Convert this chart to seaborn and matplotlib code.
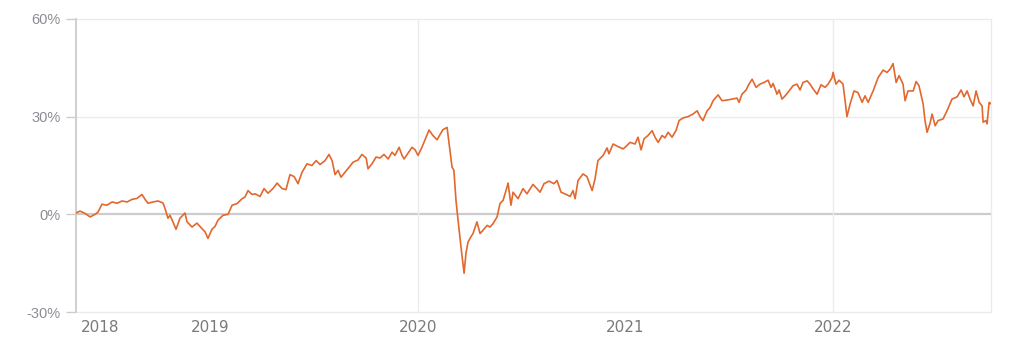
import numpy as np
import pandas as pd
import matplotlib
matplotlib.use("Agg")
import matplotlib.pyplot as plt
import seaborn as sns

# Time in decimal years, cumulative return in %
years = [
    2018.352, 2018.371, 2018.395, 2018.420, 2018.444, 2018.458, 2018.477, 2018.501, 2018.526, 2018.550,
    2018.574, 2018.598, 2018.622, 2018.646, 2018.670, 2018.685, 2018.699, 2018.723, 2018.747, 2018.771,
    2018.781, 2018.795, 2018.805, 2018.819, 2018.834, 2018.853, 2018.877, 2018.887, 2018.911, 2018.935,
    2018.959, 2018.974, 2018.988, 2019.007, 2019.022, 2019.036, 2019.060, 2019.085, 2019.104, 2019.128,
    2019.152, 2019.166, 2019.181, 2019.200, 2019.215, 2019.239, 2019.258, 2019.277, 2019.301, 2019.321,
    2019.345, 2019.364, 2019.383, 2019.403, 2019.422, 2019.441, 2019.465, 2019.489, 2019.509, 2019.528,
    2019.552, 2019.571, 2019.586, 2019.600, 2019.615, 2019.629, 2019.648, 2019.668, 2019.687, 2019.711,
    2019.730, 2019.750, 2019.759, 2019.778, 2019.798, 2019.817, 2019.836, 2019.856, 2019.875, 2019.889,
    2019.909, 2019.923, 2019.933, 2019.952, 2019.971, 2019.986, 2020.000, 2020.019, 2020.039, 2020.053,
    2020.072, 2020.092, 2020.106, 2020.120, 2020.140, 2020.149, 2020.164, 2020.173, 2020.183, 2020.193,
    2020.207, 2020.222, 2020.231, 2020.241, 2020.255, 2020.265, 2020.284, 2020.299, 2020.313, 2020.333,
    2020.347, 2020.361, 2020.381, 2020.395, 2020.410, 2020.429, 2020.434, 2020.448, 2020.458, 2020.482,
    2020.506, 2020.525, 2020.554, 2020.573, 2020.588, 2020.607, 2020.631, 2020.655, 2020.670, 2020.689,
    2020.708, 2020.733, 2020.747, 2020.757, 2020.771, 2020.795, 2020.814, 2020.839, 2020.853, 2020.867,
    2020.892, 2020.911, 2020.920, 2020.940, 2020.964, 2020.988, 2020.998, 2021.022, 2021.046, 2021.060,
    2021.075, 2021.089, 2021.108, 2021.128, 2021.142, 2021.157, 2021.176, 2021.190, 2021.205, 2021.224,
    2021.243, 2021.258, 2021.277, 2021.301, 2021.325, 2021.345, 2021.359, 2021.373, 2021.393, 2021.407,
    2021.422, 2021.446, 2021.465, 2021.489, 2021.513, 2021.537, 2021.547, 2021.561, 2021.581, 2021.595,
    2021.610, 2021.629, 2021.648, 2021.667, 2021.687, 2021.701, 2021.711, 2021.730, 2021.740, 2021.754,
    2021.769, 2021.788, 2021.807, 2021.826, 2021.841, 2021.855, 2021.875, 2021.889, 2021.904, 2021.923,
    2021.942, 2021.961, 2021.976, 2021.995, 2022.000, 2022.014, 2022.029, 2022.048, 2022.058, 2022.067,
    2022.082, 2022.101, 2022.120, 2022.140, 2022.154, 2022.169, 2022.193, 2022.217, 2022.241, 2022.260,
    2022.275, 2022.289, 2022.304, 2022.318, 2022.337, 2022.347, 2022.361, 2022.386, 2022.400, 2022.414,
    2022.434, 2022.443, 2022.453, 2022.467, 2022.477, 2022.492, 2022.506, 2022.530, 2022.549, 2022.573,
    2022.598, 2022.617, 2022.631, 2022.646, 2022.660, 2022.675, 2022.689, 2022.704, 2022.718, 2022.723,
    2022.737, 2022.742, 2022.752, 2022.761,
]
returns = [
    0.4, 1.0, 0.3, -0.8, 0.0, 0.7, 3.1, 2.8, 3.8, 3.4,
    4.1, 3.8, 4.6, 4.9, 6.1, 4.6, 3.4, 3.8, 4.1, 3.5,
    1.8, -1.2, -0.3, -2.3, -4.6, -1.2, 0.4, -2.3, -3.9, -2.7,
    -4.4, -5.4, -7.4, -4.6, -3.7, -1.8, -0.3, 0.0, 2.8, 3.3,
    4.8, 5.3, 7.3, 6.1, 6.3, 5.5, 7.9, 6.5, 7.9, 9.6,
    7.9, 7.6, 12.2, 11.6, 9.4, 12.9, 15.5, 15.0, 16.5, 15.3,
    16.5, 18.4, 16.5, 12.2, 13.5, 11.4, 12.9, 14.5, 16.0, 16.7,
    18.4, 17.3, 14.0, 15.5, 17.6, 17.3, 18.4, 17.0, 19.1, 18.1,
    20.6, 18.1, 17.0, 18.8, 20.6, 19.8, 18.1, 20.6, 23.7, 25.9,
    24.2, 22.9, 24.5, 26.0, 26.7, 22.1, 14.5, 13.5, 4.3, -1.8,
    -10.0, -18.1, -12.0, -8.5, -6.9, -5.9, -2.3, -5.9, -4.9, -3.4,
    -3.9, -2.9, -0.8, 3.3, 4.3, 8.4, 9.6, 2.8, 6.8, 4.8,
    7.9, 6.3, 9.2, 7.9, 6.8, 9.4, 10.2, 9.4, 10.4, 6.8,
    6.3, 5.5, 7.3, 4.8, 10.4, 12.4, 11.6, 7.3, 10.9, 16.5,
    18.1, 20.4, 18.6, 21.6, 20.8, 20.1, 20.6, 22.1, 21.6, 23.7,
    19.8, 23.2, 24.2, 25.7, 23.7, 22.1, 24.2, 23.5, 25.2, 23.7,
    25.7, 28.8, 29.6, 30.0, 30.8, 31.8, 30.0, 28.8, 31.8, 32.8,
    34.9, 36.7, 34.9, 35.1, 35.4, 35.7, 34.4, 36.9, 38.2, 40.0,
    41.5, 39.0, 40.0, 40.5, 41.2, 39.0, 40.2, 36.9, 38.2, 35.4,
    36.4, 37.9, 39.5, 40.0, 38.2, 40.5, 41.0, 40.0, 38.5, 36.9,
    39.8, 39.0, 40.0, 42.0, 43.6, 40.0, 41.2, 40.0, 34.9, 30.0,
    33.9, 37.9, 37.4, 34.4, 36.4, 34.4, 37.9, 42.0, 44.3, 43.6,
    44.6, 46.3, 40.5, 42.6, 40.0, 34.9, 37.9, 37.9, 40.8, 39.5,
    33.9, 28.8, 25.2, 27.9, 30.8, 27.2, 28.8, 29.3, 31.8, 35.4,
    36.1, 38.2, 36.1, 37.9, 35.4, 33.3, 37.9, 34.4, 33.3, 28.3,
    28.8, 27.8, 34.4, 33.9,
]

x_tick_pos = [2018.47, 2019.0, 2020.0, 2021.0, 2022.0]
x_tick_labels = ["2018", "2019", "2020", "2021", "2022"]
x_grid_years = [2020.0, 2022.0]
y_ticks = [-30, 0, 30, 60]
y_tick_labels = ["-30%", "0%", "30%", "60%"]

df = pd.DataFrame({"year": years, "ret": returns})

sns.set_style("white")
plt.rcParams["font.family"] = ["DejaVu Sans"]

fig = plt.figure(figsize=(10.24, 3.48), dpi=100)
ax = fig.add_axes([76 / 1024, 1 - 312 / 348, (991 - 76) / 1024, (312 - 19) / 348])

# grid
for yv in y_ticks:
    if yv == 0:
        ax.axhline(yv, color="#cccccc", lw=1.6, zorder=1)
    else:
        ax.axhline(yv, color="#ebebeb", lw=1.0, zorder=1, clip_on=False)
for xv in x_grid_years:
    ax.axvline(xv, color="#ebebeb", lw=1.0, zorder=1)
ax.axvline(years[-1], color="#ebebeb", lw=1.0, zorder=1, clip_on=False)

sns.lineplot(data=df, x="year", y="ret", ax=ax, color="#e2682e", lw=1.2, zorder=3)

ax.set_xlim(years[0], years[-1])
ax.set_ylim(-30, 60)
ax.set_xlabel("")
ax.set_ylabel("")

for s in ["top", "right", "bottom"]:
    ax.spines[s].set_visible(False)
ax.spines["left"].set_color("#cccccc")
ax.spines["left"].set_linewidth(1.3)
ax.spines["left"].set_zorder(2)

ax.set_yticks(y_ticks)
ax.set_yticklabels(y_tick_labels, fontfamily="Liberation Sans", fontsize=10.5, color="#8c8c94")
ax.tick_params(axis="y", length=7, width=1.0, color="#cccccc", pad=4, left=True)

ax.set_xticks(x_tick_pos)
ax.set_xticklabels(x_tick_labels, fontfamily="DejaVu Sans", fontsize=11, color="#7a7a7a")
ax.tick_params(axis="x", length=0, pad=6)

fig.savefig("out.png", dpi=100)
